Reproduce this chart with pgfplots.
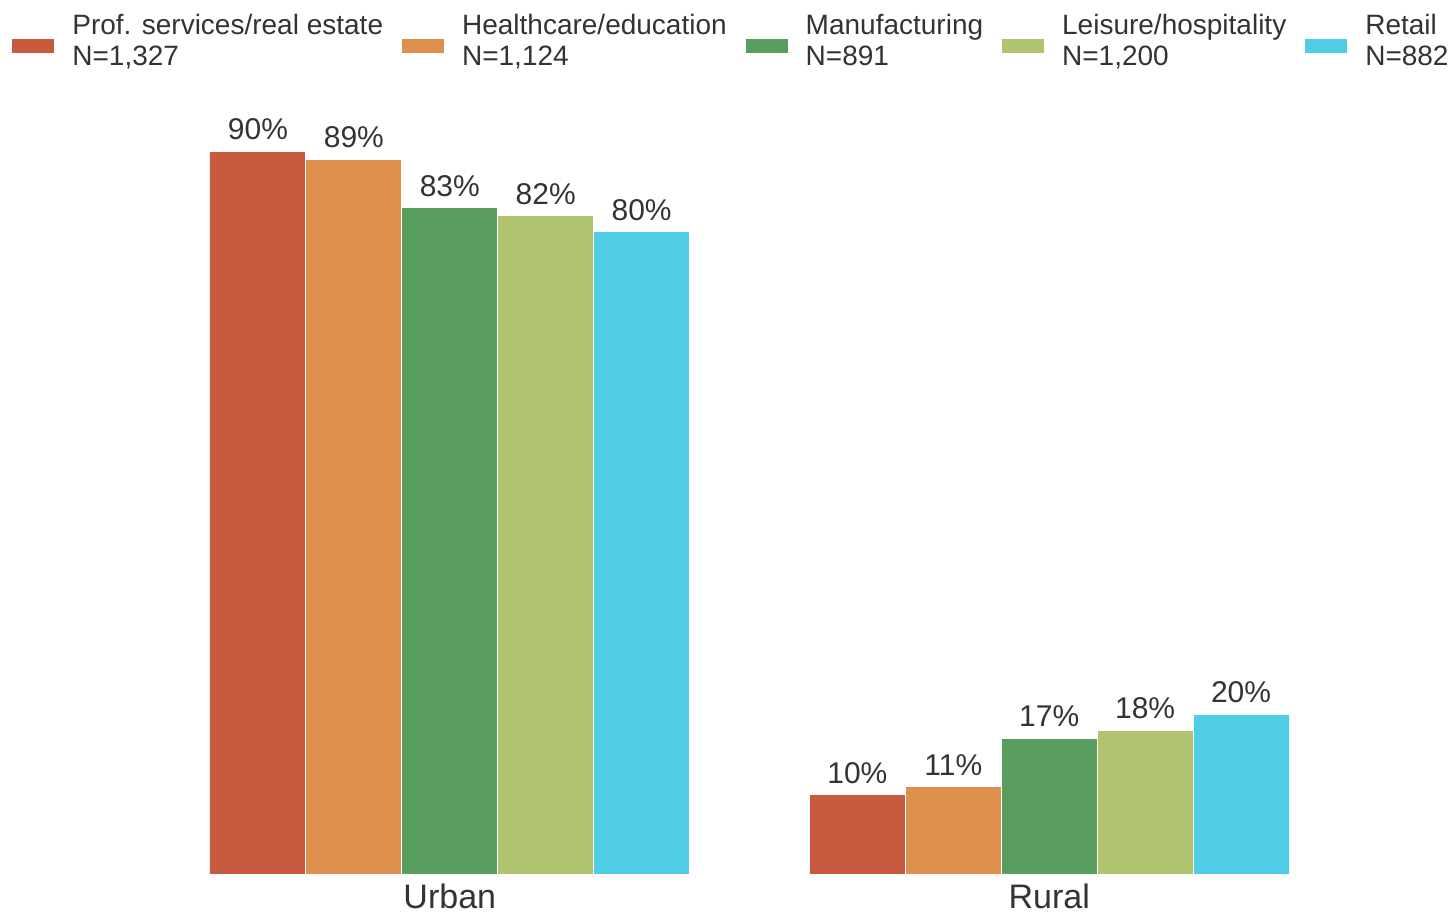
\documentclass[border=0pt]{standalone}
\usepackage{pgfplots}
\pgfplotsset{compat=1.18}
\usepackage{fontspec}
\setmainfont{Liberation Sans}
\definecolor{cA}{HTML}{C85A40}
\definecolor{cB}{HTML}{DD8F4C}
\definecolor{cC}{HTML}{5A9E5F}
\definecolor{cD}{HTML}{B0C46F}
\definecolor{cE}{HTML}{4FCDE4}
\definecolor{txt}{HTML}{333333}
\begin{document}
\begin{tikzpicture}
\path[use as bounding box] (-105pt,-19.5pt) rectangle (622.5pt,437.5pt);
\begin{axis}[
  scale only axis,
  width=539.5pt, height=402pt,
  xmin=-0.4, xmax=1.4, ymin=0, ymax=100,
  /pgf/number format/assume math mode=true,
  axis line style={draw=none},
  tick style={draw=none},
  ytick=\empty,
  xtick={0,1}, xticklabels={Urban,Rural},
  xticklabel style={font=\fontsize{17}{20}\selectfont, text=txt, yshift=-1pt},
  major tick length=0pt,
  bar width=0.16, bar shift=0pt,
  nodes near coords={\pgfmathprintnumber{\pgfplotspointmeta}\%},
  every node near coord/.append style={font=\fontsize{15}{18}\selectfont, text=txt, yshift=2pt},
  legend style={at={(-0.1835,1.0709)}, anchor=north west, draw=none, fill=none,
    legend columns=5, inner sep=0pt,
    nodes={align=left, font=\fontsize{14}{15.5}\selectfont, text=txt, inner sep=0pt},
    /tikz/every even column/.append style={column sep=9.5pt},
    /tikz/every odd column/.append style={column sep=9pt}},
  legend image code/.code={\fill[#1,draw=none] (0pt,-5.5pt) rectangle (21pt,1.5pt);},
]
\addplot[ybar, fill=cA, draw=white, line width=0.5pt] coordinates {(-0.32,90) (0.68,10)};
\addlegendentry{Prof. services/real estate\\N=1,327}
\addplot[ybar, fill=cB, draw=white, line width=0.5pt] coordinates {(-0.16,89) (0.84,11)};
\addlegendentry{Healthcare/education\\N=1,124}
\addplot[ybar, fill=cC, draw=white, line width=0.5pt] coordinates {(0,83) (1,17)};
\addlegendentry{Manufacturing\\N=891}
\addplot[ybar, fill=cD, draw=white, line width=0.5pt] coordinates {(0.16,82) (1.16,18)};
\addlegendentry{Leisure/hospitality\\N=1,200}
\addplot[ybar, fill=cE, draw=white, line width=0.5pt] coordinates {(0.32,80) (1.32,20)};
\addlegendentry{Retail\\N=882}
\end{axis}
\end{tikzpicture}
\end{document}
